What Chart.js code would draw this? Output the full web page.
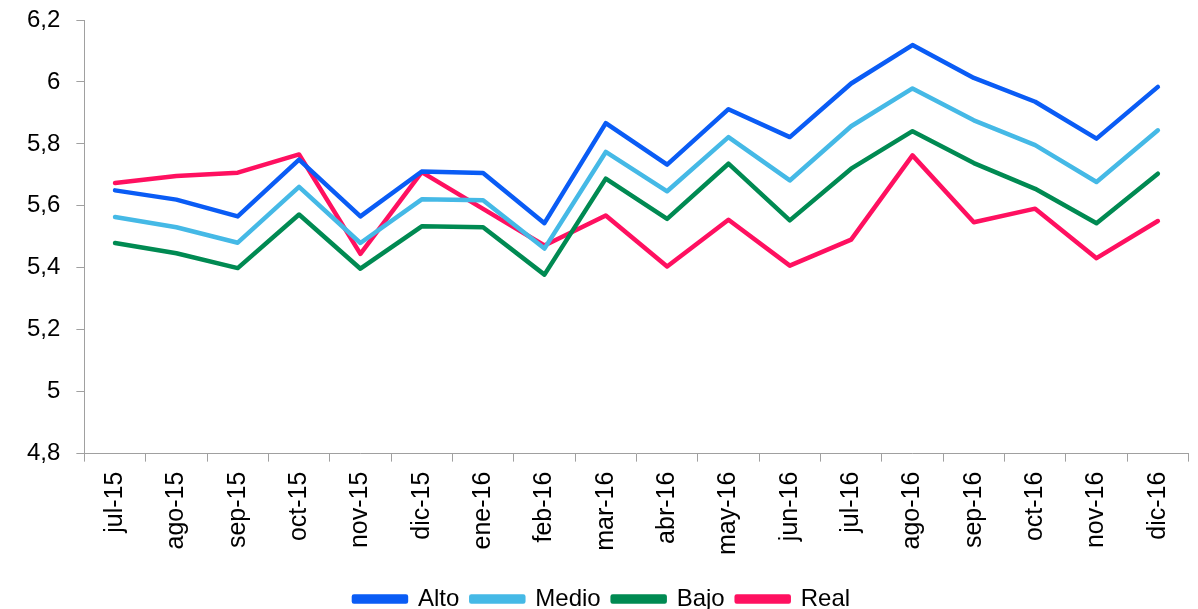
<!DOCTYPE html>
<html>
<head>
    <meta charset="utf-8">
    <title>Alto / Medio / Bajo / Real</title>
    <script src="https://cdn.jsdelivr.net/npm/chart.js"></script>
    <style>
        html, body { margin: 0; padding: 0; background: #fff; }
        #wrap { width: 1198px; height: 609px; }
    </style>
</head>
<body>
    <div id="wrap"><canvas id="lineChart"></canvas></div>

    <script>
        const months = ["jul-15", "ago-15", "sep-15", "oct-15", "nov-15", "dic-15", "ene-16", "feb-16", "mar-16",
            "abr-16", "may-16", "jun-16", "jul-16", "ago-16", "sep-16", "oct-16", "nov-16", "dic-16"];

        const alto = [5.65, 5.62, 5.566, 5.749, 5.566, 5.711, 5.706, 5.544, 5.867,
            5.733, 5.912, 5.822, 5.995, 6.119, 6.013, 5.936, 5.817, 5.984];
        const medio = [5.564, 5.531, 5.481, 5.661, 5.48, 5.621, 5.618, 5.462, 5.774,
            5.647, 5.822, 5.682, 5.857, 5.979, 5.876, 5.796, 5.677, 5.844];
        const bajo = [5.48, 5.447, 5.399, 5.572, 5.397, 5.534, 5.531, 5.378, 5.688,
            5.558, 5.736, 5.553, 5.72, 5.841, 5.738, 5.655, 5.544, 5.704];
        const real = [5.674, 5.696, 5.707, 5.766, 5.445, 5.709, 5.59, 5.472, 5.569,
            5.404, 5.555, 5.407, 5.491, 5.763, 5.547, 5.591, 5.431, 5.551];

        const yTicks = [4.8, 5, 5.2, 5.4, 5.6, 5.8, 6, 6.2];

        const font = "'Liberation Sans', Arial, sans-serif";

        function serie(label, data, color) {
            return {
                label: label,
                data: data,
                borderColor: color,
                backgroundColor: color,
                borderWidth: 4.5,
                pointRadius: 0,
                pointHoverRadius: 0,
                tension: 0,
                borderJoinStyle: "round",
                borderCapStyle: "round",
                fill: false
            };
        }

        const ctx = document.getElementById("lineChart").getContext("2d");
        new Chart(ctx, {
            type: "line",
            data: {
                labels: months,
                datasets: [
                    serie("Alto", alto, "#0a5cf5"),
                    serie("Medio", medio, "#45b9e6"),
                    serie("Bajo", bajo, "#008a52"),
                    serie("Real", real, "#ff1060")
                ]
            },
            options: {
                responsive: true,
                maintainAspectRatio: false,
                animation: false,
                layout: {
                    padding: { left: 11, right: 5, top: 20, bottom: -12 }
                },
                plugins: {
                    tooltip: { enabled: false },
                    legend: {
                        position: "bottom",
                        labels: {
                            color: "#000",
                            font: { family: font, size: 24 },
                            boxWidth: 52,
                            boxHeight: 5,
                            padding: 12
                        }
                    }
                },
                scales: {
                    x: {
                        offset: true,
                        afterFit: s => { s.height += 10; },
                        border: { color: "#a0a0a0", width: 1 },
                        grid: {
                            offset: true,
                            drawOnChartArea: false,
                            drawTicks: true,
                            tickLength: 8,
                            color: "#a0a0a0"
                        },
                        ticks: {
                            color: "#000",
                            font: { family: font, size: 25 },
                            minRotation: 90,
                            maxRotation: 90,
                            padding: 10,
                            autoSkip: false
                        }
                    },
                    y: {
                        min: 4.8,
                        max: 6.2,
                        afterBuildTicks: axis => {
                            axis.ticks = yTicks.map(v => ({ value: v }));
                        },
                        afterFit: s => { s.paddingTop = 0; },
                        border: { color: "#a0a0a0", width: 1 },
                        grid: {
                            drawOnChartArea: false,
                            drawTicks: true,
                            tickLength: 8,
                            color: "#a0a0a0"
                        },
                        ticks: {
                            color: "#000",
                            font: { family: font, size: 24 },
                            padding: 16,
                            callback: v => String(Number(v.toFixed(1))).replace(".", ",")
                        }
                    }
                }
            }
        });
    </script>
</body>
</html>
